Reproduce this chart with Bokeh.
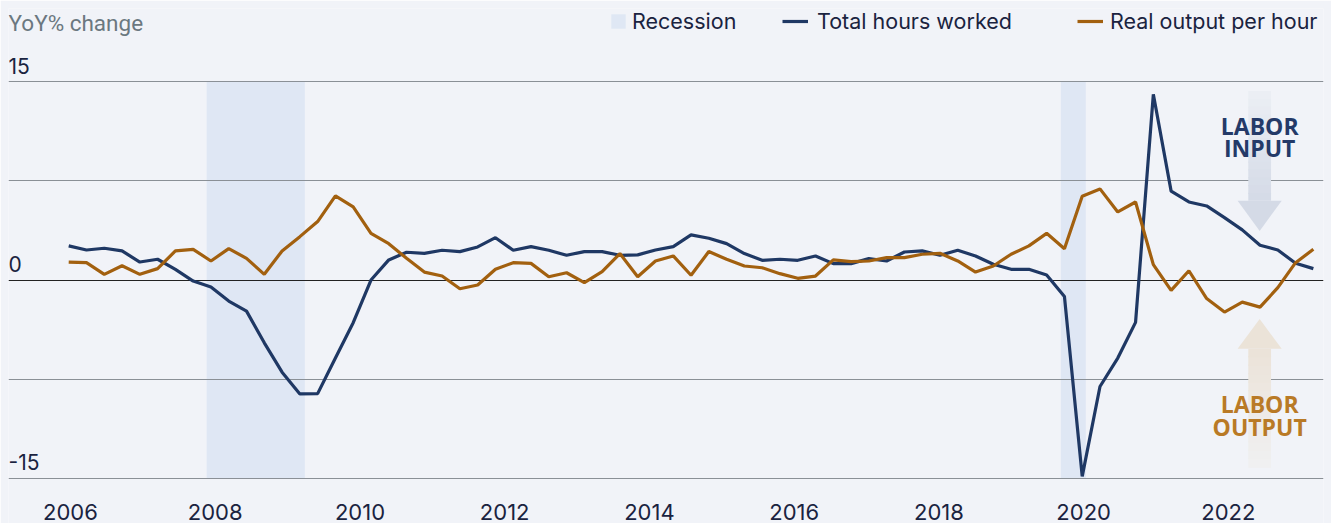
from bokeh.plotting import figure
from bokeh.models import Range1d, Legend, LegendItem, Label
from bokeh.core.properties import value
from bokeh.embed import file_html
from bokeh.resources import INLINE

# ---------------- data (quarterly, 2006Q1 ... 2023Q3), YoY % change ----------------
first_year = 2006
hours = [2.58, 2.27, 2.4, 2.2, 1.36, 1.57, 0.8, -0.08, -0.53, -1.59,
         -2.35, -4.75, -6.97, -8.61, -8.59, -5.9, -3.23, 0.0, 1.52, 2.1,
         2.02, 2.25, 2.15, 2.5, 3.2, 2.25, 2.52, 2.25, 1.87, 2.15,
         2.15, 1.87, 1.9, 2.27, 2.52, 3.41, 3.16, 2.75, 2.0, 1.49,
         1.57, 1.49, 1.82, 1.24, 1.24, 1.62, 1.44, 2.12, 2.2, 1.87,
         2.25, 1.82, 1.19, 0.81, 0.81, 0.38, -1.24, -14.85, -8.05, -5.9,
         -3.2, 14.04, 6.72, 5.9, 5.6, 4.72, 3.79, 2.63, 2.27, 1.27,
         0.86]
output = [1.36, 1.31, 0.43, 1.08, 0.43, 0.86, 2.2, 2.32, 1.44, 2.37,
          1.64, 0.43, 2.2, 3.28, 4.42, 6.36, 5.53, 3.53, 2.75, 1.64,
          0.6, 0.3, -0.66, -0.38, 0.81, 1.31, 1.26, 0.25, 0.55, -0.2,
          0.63, 2.0, 0.25, 1.44, 1.82, 0.36, 2.15, 1.57, 1.06, 0.93,
          0.48, 0.13, 0.3, 1.52, 1.39, 1.44, 1.69, 1.69, 1.95, 2.02,
          1.44, 0.6, 1.06, 1.95, 2.58, 3.53, 2.37, 6.34, 6.89, 5.15,
          5.9, 1.16, -0.78, 0.7, -1.4, -2.42, -1.67, -2.05, -0.58, 1.31,
          2.32]
t = [first_year + i * 0.25 for i in range(len(hours))]

rec_start = [2007.94, 2019.95]
rec_end = [2009.32, 2020.30]

year_labels = ["2006", "2008", "2010", "2012", "2014", "2016", "2018", "2020", "2022"]
year_label_pos = [2006.025, 2008.06, 2010.095, 2012.13, 2014.165, 2016.2, 2018.235, 2020.27, 2022.305]

ytick_vals = [15, 0, -15]
ytick_text = ["15", "0", "-15"]
grid_vals = [15, 7.5, -7.5, -15]

# ---------------- styling ----------------
BG = "#f1f3f8"
NAVY = "#1f3864"
ORANGE = "#a2600f"
TXT = "#1a2340"
FW, FH = 1315, 515
X0, X1 = 2005.1535, 2023.6425
Y0, Y1 = -18.41, 20.53

p = figure(frame_width=FW, frame_height=FH,
           x_range=Range1d(X0, X1), y_range=Range1d(Y0, Y1),
           output_backend="svg", toolbar_location=None,
           x_axis_location=None, y_axis_location=None,
           min_border_left=8, min_border_right=8, min_border_top=8, min_border_bottom=0,
           background_fill_color=BG, border_fill_color=BG, outline_line_color=None)
p.xgrid.visible = False
p.ygrid.visible = False

# recession bands
band = p.quad(left=rec_start, right=rec_end, top=15, bottom=-15,
              fill_color="#dfe7f4", line_color=None)

# grid lines
p.hspan(y=grid_vals, line_color="#8a9096", line_width=1)
p.hspan(y=[0], line_color="#222222", line_width=1.2)

# annotation arrows (block arrows with a soft fade)
def hex_mix(c1, c2, f):
    a = [int(c1[i:i + 2], 16) for i in (1, 3, 5)]
    b = [int(c2[i:i + 2], 16) for i in (1, 3, 5)]
    return "#" + "".join(f"{round(a[j] + (b[j] - a[j]) * f):02x}" for j in range(3))

def block_arrow(cx, y_tail, y_base, y_tip, shaft_hw, head_hw, color, fade_color, n=14):
    lefts, rights, tops, bottoms, cols = [], [], [], [], []
    for i in range(n):
        ya = y_tail + (y_base - y_tail) * i / n
        yb = y_tail + (y_base - y_tail) * (i + 1.15) / n
        yb = max(min(yb, max(y_tail, y_base)), min(y_tail, y_base))
        lefts.append(cx - shaft_hw)
        rights.append(cx + shaft_hw)
        tops.append(max(ya, yb))
        bottoms.append(min(ya, yb))
        cols.append(hex_mix(fade_color, color, (i + 0.5) / n))
    p.quad(left=lefts, right=rights, top=tops, bottom=bottoms, fill_color=cols, line_color=None)
    p.patch([cx - head_hw, cx + head_hw, cx], [y_base, y_base, y_tip], fill_color=color, line_color=None)

arrow_x = first_year + 67 * 0.25 - 0.005
block_arrow(arrow_x, 14.3, 6.0, 3.7, 0.16, 0.31, "#d4dae6", "#eceff5")
block_arrow(arrow_x, -14.2, -5.2, -2.95, 0.16, 0.31, "#ebe3d8", "#f0f0f2")

# data lines
l_hours = p.line(t, hours, line_color=NAVY, line_width=3.2)
l_output = p.line(t, output, line_color=ORANGE, line_width=3.2)

# arrow labels
p.text(x=[arrow_x] * 2, y=[11.63, 9.96], text=["LABOR", "INPUT"],
       text_font=value("Open Sans"), text_font_style="bold", text_font_size="23px",
       text_color="#243a68", text_align="center", text_baseline="middle")
p.text(x=[arrow_x] * 2, y=[-9.36, -11.1], text=["LABOR", "OUTPUT"],
       text_font=value("Open Sans"), text_font_style="bold", text_font_size="23px",
       text_color="#b97a26", text_align="center", text_baseline="middle")

# y tick labels (sit above their grid lines)
p.text(x=[X0] * len(ytick_vals), y=ytick_vals, text=ytick_text,
       text_font=value("Inter"), text_font_size="21px", text_color=TXT,
       text_align="left", text_baseline="middle", y_offset=-16)

# x tick labels (year labels along the bottom edge)
p.text(x=year_label_pos, y=[Y0] * len(year_labels), text=year_labels,
       text_font=value("Inter"), text_font_size="22px", text_color=TXT,
       text_align="center", text_baseline="middle", y_offset=-12)

# title
p.add_layout(Label(x=0, y=FH - 14, x_units="screen", y_units="screen", text="YoY% change",
                   text_font="Roboto", text_font_size="22.5px", text_color="#6b7880",
                   text_baseline="middle"))

# legends
def add_legend(label, rend, vx, gw, standoff):
    leg = Legend(items=[LegendItem(label=label, renderers=[rend])], location=(vx, FH - 26),
                 glyph_width=gw, glyph_height=18, label_standoff=standoff, padding=0, margin=0,
                 spacing=0, border_line_color=None, background_fill_alpha=0,
                 label_text_font="Inter", label_text_font_size="21.5px", label_text_color=TXT)
    p.add_layout(leg, "center")

add_legend("Recession", band, 601, 18, 5)
add_legend("Total hours worked", l_hours, 774, 26, 9)
add_legend("Real output per hour", l_output, 1069, 26, 7)

open("out.html", "w").write(file_html(p, INLINE))
